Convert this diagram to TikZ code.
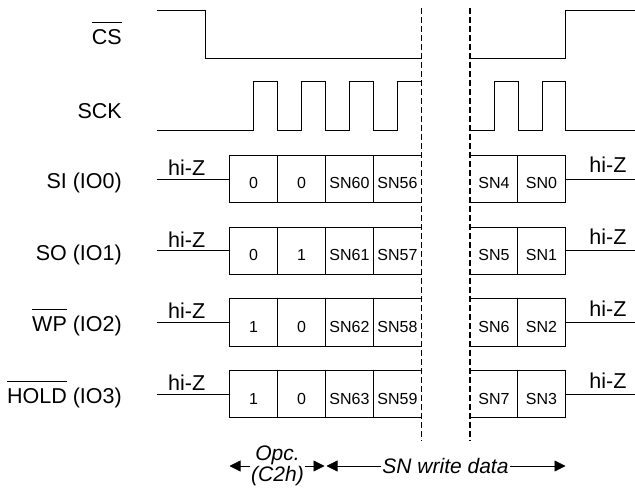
\documentclass[tikz,border=0pt]{standalone}
\usepackage{fontspec}
\setmainfont{Liberation Sans}
\usetikzlibrary{arrows.meta}

\newcommand{\nsig}[1]{\setbox0\hbox{#1}\rlap{\rule[\dimexpr\ht0+7pt\relax]{\wd0}{0.8pt}}\box0\relax}

\tikzset{
  wave/.style={line width=0.8pt, line join=miter},
  brk/.style={line width=1.2pt, dash pattern=on 6pt off 3pt},
  sigl/.style={font=\fontsize{21.5}{25}\selectfont, anchor=base east, inner sep=0pt},
  hiz/.style={font=\fontsize{21.5}{25}\selectfont, anchor=base, inner sep=0pt},
  cell/.style={font=\fontsize{16}{18}\selectfont, anchor=base, inner sep=0pt},
  spanarr/.style={line width=0.8pt, -{Triangle[length=11pt,width=11pt]}},
  spantxt/.style={font=\fontsize{21}{21.5}\selectfont\itshape, align=center, inner sep=1pt}
}

\begin{document}
\begin{tikzpicture}[x=1pt, y=-1pt]
\useasboundingbox (0,0) rectangle (635,489);

% CS and SCK
\node[sigl] (cs) at (122,45) {\nsig{CS}};
\node[sigl] (sck) at (122,118.5) {SCK};
\draw[wave] (157,10) -- (205.5,10) -- (205.5,58.3) -- (421.5,58.3);
\draw[wave] (470,58.3) -- (565.5,58.3) -- (565.5,10) -- (635,10);
\draw[wave] (157,130) -- (253.5,130) -- (253.5,81.7) -- (277.5,81.7) -- (277.5,130)
  -- (301.5,130) -- (301.5,81.7) -- (325.5,81.7) -- (325.5,130)
  -- (349.5,130) -- (349.5,81.7) -- (373.5,81.7) -- (373.5,130)
  -- (397.5,130) -- (397.5,81.7) -- (421.5,81.7);
\draw[wave] (470,130) -- (494,130) -- (494,81.7) -- (518,81.7) -- (518,130)
  -- (542,130) -- (542,81.7) -- (565.5,81.7) -- (565.5,130) -- (635,130);

% IO rows
\foreach \i/\y/\lab/\a/\b/\c/\d/\e/\f in {
    0/179/SI (IO0)/0/0/SN60/SN56/SN4/SN0,
    1/250.7/SO (IO1)/0/1/SN61/SN57/SN5/SN1,
    2/322.3/{\nsig{WP} (IO2)}/1/0/SN62/SN58/SN6/SN2,
    3/394/{\nsig{HOLD} (IO3)}/1/0/SN63/SN59/SN7/SN3} {
  \node[sigl] (io\i) at (122,\y+9.5) {\lab};
  \draw[wave] (157,\y) -- (229.5,\y);
  \draw[wave] (565.5,\y) -- (635,\y);
  \node[hiz] (hzl\i) at (186.7,\y-3.5) {hi-Z};
  \node[hiz] (hzr\i) at (608,\y-6) {hi-Z};
  \draw[wave] (421.5,\y-23.7) -| (229.5,\y+23.7) -- (421.5,\y+23.7);
  \foreach \x in {277.5,325.5,373.5}
    \draw[wave] (\x,\y-23.7) -- (\x,\y+23.7);
  \draw[wave] (470,\y-23.7) -| (565.5,\y+23.7) -- (470,\y+23.7);
  \draw[wave] (517.5,\y-23.7) -- (517.5,\y+23.7);
  \node[cell] (a\i) at (253.5,\y+10) {\a};
  \node[cell] (b\i) at (301.5,\y+10) {\b};
  \node[cell] (c\i) at (349.5,\y+10) {\c};
  \node[cell] (d\i) at (397.5,\y+10) {\d};
  \node[cell] (e\i) at (494,\y+10) {\e};
  \node[cell] (f\i) at (541.5,\y+10) {\f};
}

% break in the data stream
\draw[brk] (421.5,8) -- (421.5,441);
\draw[brk] (470,8) -- (470,441);

% phases
\node[spantxt] (opc) at (277.5,466) {Opc.\\(C2h)};
\coordinate (opcL) at (229.5,466);
\coordinate (opcR) at (324.5,466);
\draw[spanarr] (opc.west) -- (opcL);
\draw[spanarr] (opc.east) -- (opcR);
\node[spantxt] (snd) at (445.5,466) {SN write data};
\coordinate (sndL) at (326.5,466);
\coordinate (sndR) at (565.5,466);
\draw[spanarr] (snd.west) -- (sndL);
\draw[spanarr] (snd.east) -- (sndR);
\end{tikzpicture}
\end{document}
